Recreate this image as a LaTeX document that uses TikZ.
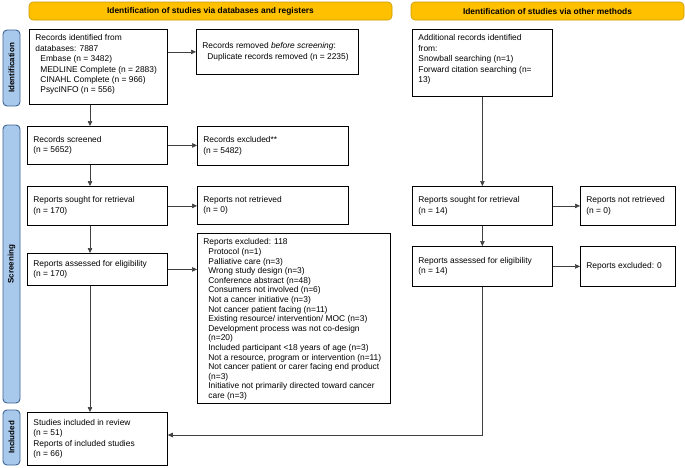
\documentclass[tikz,border=0pt]{standalone}
\usepackage{fontspec}
\setmainfont{Liberation Sans}
\usetikzlibrary{arrows.meta}
\definecolor{bannerfill}{HTML}{FFC000}
\definecolor{bannerline}{HTML}{C99A00}
\definecolor{sidefill}{HTML}{A9C9EC}
\definecolor{sideline}{HTML}{3E6494}
\newcommand\bt[4]{\parbox[c][\dimexpr #2pt-11pt\relax][#3]{\dimexpr #1pt-12pt\relax}{\raggedright #4}}
\tikzset{
  box/.style={draw=black, line width=0.8pt, inner xsep=6pt, inner ysep=5.5pt, anchor=north west, fill=white,
    font=\fontsize{8.4}{10.4}\selectfont},
  banner/.style={draw=bannerline, fill=bannerfill, line width=0.6pt, rounded corners=4pt, inner sep=0pt,
    font=\fontsize{8.4}{9}\selectfont\bfseries},
  side/.style={draw=sideline, fill=sidefill, line width=0.9pt, rounded corners=4pt, inner sep=0pt,
    rotate=90, minimum height=17pt, font=\fontsize{8}{9}\selectfont\bfseries},
  arr/.style={draw=black!75, line width=0.6pt, -{Triangle[length=5pt,width=4.5pt]}}
}
\begin{document}
\begin{tikzpicture}[x=1pt,y=-1pt]
\useasboundingbox (0,0) rectangle (685,467);
% banners
\node[banner, minimum width=363pt, minimum height=18pt] (h1) at (210.5,11) {Identification of studies via databases and registers};
\node[banner, minimum width=273pt, minimum height=18pt] (h2) at (547.5,11) {Identification of studies via other methods};
% side labels
\node[side, minimum width=76pt] (s1) at (11.5,68) {Identification};
\node[side, minimum width=278pt] (s2) at (11.5,264) {Screening};
\node[side, minimum width=55pt] (s3) at (11.5,437.5) {Included};
% left column
\node[box] (b1) at (29,29) {\bt{138}{75}{t}{Records identified from\\databases: 7887\\
\hspace*{5pt}Embase (n = 3482)\\\hspace*{5pt}MEDLINE Complete (n = 2883)\\\hspace*{5pt}CINAHL Complete (n = 966)\\\hspace*{5pt}PsycINFO (n = 556)}};
\node[box] (b2) at (196,29) {\bt{162}{45}{c}{Records removed \textit{before screening}:\\\hspace*{5pt}Duplicate records removed (n = 2235)}};
\node[box] (b3) at (27,126) {\bt{140}{38}{c}{Records screened\\(n = 5652)}};
\node[box] (b4) at (197,126) {\bt{151}{39}{c}{Records excluded**\\(n = 5482)}};
\node[box] (b5) at (27,186) {\bt{140}{39}{c}{Reports sought for retrieval\\(n = 170)}};
\node[box] (b6) at (197,186) {\bt{151}{38}{c}{Reports not retrieved\\(n = 0)}};
\node[box] (b7) at (27,253) {\bt{140}{32}{c}{Reports assessed for eligibility\\(n = 170)}};
\node[box, font=\fontsize{8.4}{9.6}\selectfont] (b8) at (197,233) {\bt{193}{170}{t}{Reports excluded: 118\\
\hspace*{5pt}Protocol (n=1)\\
\hspace*{5pt}Palliative care (n=3)\\
\hspace*{5pt}Wrong study design (n=3)\\
\hspace*{5pt}Conference abstract (n=48)\\
\hspace*{5pt}Consumers not involved (n=6)\\
\hspace*{5pt}Not a cancer initiative (n=3)\\
\hspace*{5pt}Not cancer patient facing (n=11)\\
\hspace*{5pt}Existing resource/ intervention/ MOC (n=3)\\
\hspace*{5pt}Development process was not co-design\\
\hspace*{5pt}(n=20)\\
\hspace*{5pt}Included participant <18 years of age (n=3)\\
\hspace*{5pt}Not a resource, program or intervention (n=11)\\
\hspace*{5pt}Not cancer patient or carer facing end product\\
\hspace*{5pt}(n=3)\\
\hspace*{5pt}Initiative not primarily directed toward cancer\\
\hspace*{5pt}care (n=3)}};
\node[box] (b9) at (27,412) {\bt{140}{53}{c}{Studies included in review\\(n = 51)\\Reports of included studies\\(n = 66)}};
% right column
\node[box] (r1) at (412,29) {\bt{140}{67}{t}{Additional records identified\\from:\\Snowball searching (n=1)\\Forward citation searching (n=\\13)}};
\node[box] (r2) at (412,186) {\bt{140}{39}{c}{Reports sought for retrieval\\(n = 14)}};
\node[box] (r3) at (580,186) {\bt{95}{39}{c}{Reports not retrieved\\(n = 0)}};
\node[box] (r4) at (412,246) {\bt{140}{40}{c}{Reports assessed for eligibility\\(n = 14)}};
\node[box] (r5) at (580,246) {\bt{95}{40}{c}{Reports excluded: 0}};
% helper coordinates
\coordinate (cx) at (90,0);
\coordinate (cy) at (0,435);
% connectors left column
\draw[arr] (b1.south -| cx) -- (b3.north -| cx);
\draw[arr] (b3.south -| cx) -- (b5.north -| cx);
\draw[arr] (b5.south -| cx) -- (b7.north -| cx);
\draw[arr] (b7.south -| cx) -- (b9.north -| cx);
\draw[arr] (b2.west -| b1.east) -- (b2.west);
\draw[arr] (b3.east) -- (b3.east -| b4.west);
\draw[arr] (b5.east) -- (b5.east -| b6.west);
\draw[arr] (b7.east) -- (b7.east -| b8.west);
% right column
\draw[arr] (r1.south) -- (r2.north);
\draw[arr] (r2.south) -- (r4.north);
\draw[arr] (r2.east) -- (r3.west);
\draw[arr] (r4.east) -- (r5.west);
\draw[arr] (r4.south) |- (b9.east |- cy);
\end{tikzpicture}
\end{document}
